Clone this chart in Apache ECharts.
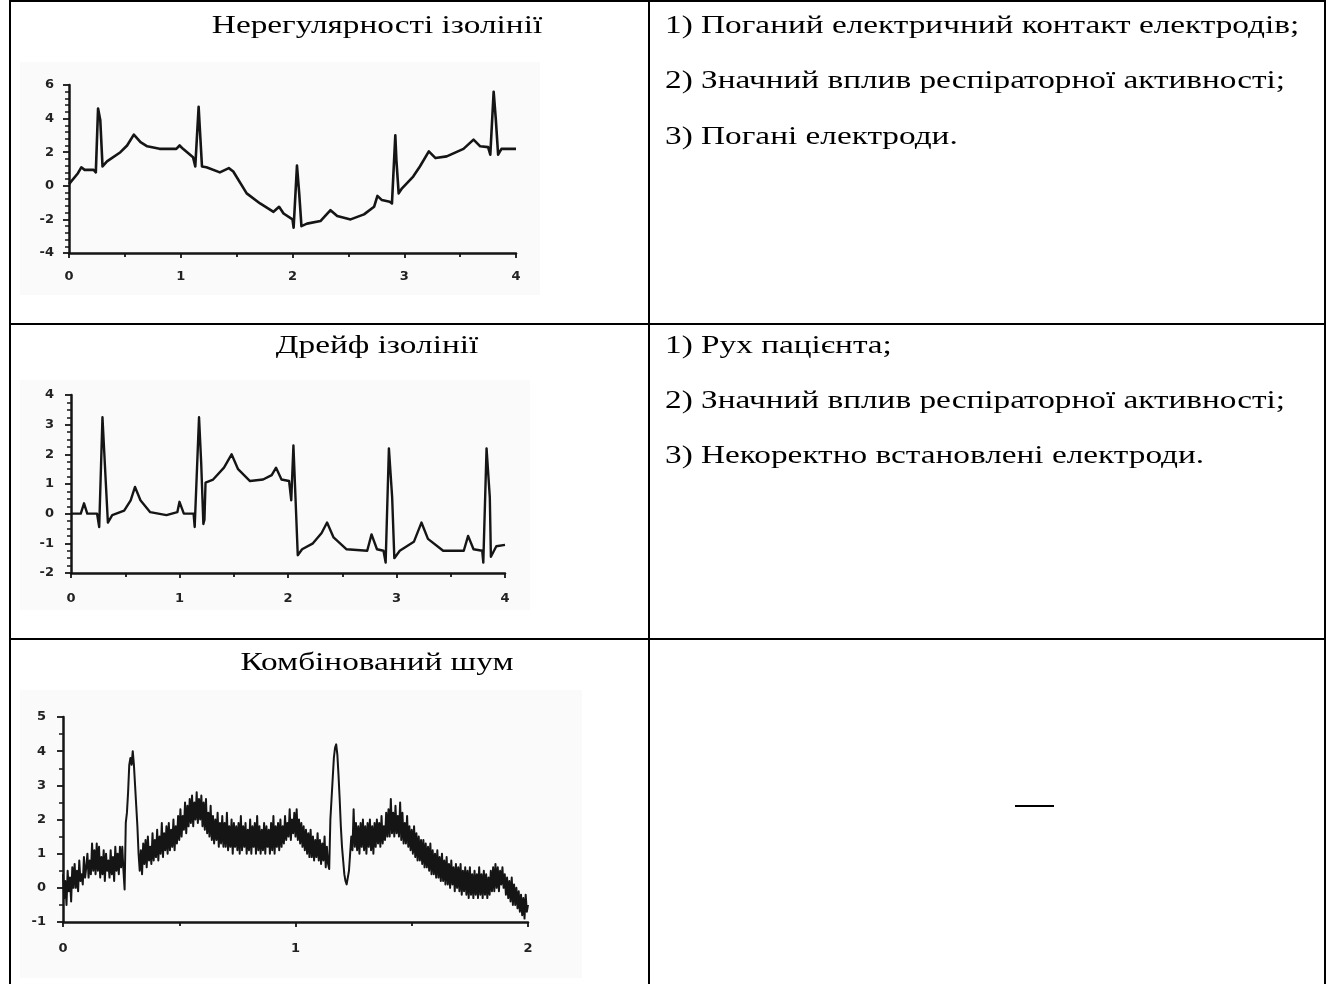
<!DOCTYPE html>
<html>
<head>
<meta charset="utf-8">
<script src="https://cdn.jsdelivr.net/npm/echarts@6/dist/echarts.min.js"></script>
<style>
html,body{margin:0;padding:0;background:#fff;}
#c{width:1329px;height:984px;}
</style>
</head>
<body>
<div id="c"></div>
<script>
// ---------- texts ----------
const rowTitles = ['Нерегулярності ізолінії', 'Дрейф ізолінії', 'Комбінований шум'];
const row1Causes = ['1) Поганий електричний контакт електродів;', '2) Значний вплив респіраторної активності;', '3) Погані електроди.'];
const row2Causes = ['1) Рух пацієнта;', '2) Значний вплив респіраторної активності;', '3) Некоректно встановлені електроди.'];

// ---------- chart 1: baseline irregularities ----------
const c1X = [0,0.08,0.11,0.14,0.22,0.24,0.26,0.28,0.30,0.34,0.46,0.52,0.58,0.64,0.70,0.81,0.96,0.99,1.02,1.11,1.13,1.16,1.17,1.19,1.23,1.35,1.43,1.47,1.59,1.71,1.83,1.88,1.92,2.00,2.01,2.04,2.06,2.08,2.13,2.25,2.34,2.40,2.52,2.64,2.73,2.76,2.80,2.87,2.89,2.92,2.93,2.95,2.98,3.08,3.14,3.22,3.28,3.38,3.53,3.62,3.68,3.75,3.77,3.80,3.82,3.84,3.87,4.00];
const c1Y = [0.1,0.75,1.1,0.95,0.95,0.8,4.6,3.9,1.15,1.45,2.0,2.4,3.05,2.6,2.35,2.2,2.2,2.4,2.2,1.7,1.15,4.7,3.5,1.15,1.1,0.8,1.05,0.85,-0.45,-1.05,-1.55,-1.25,-1.65,-2.0,-2.5,1.2,-0.45,-2.4,-2.25,-2.1,-1.45,-1.8,-2.0,-1.7,-1.25,-0.6,-0.85,-0.95,-1.05,3.0,1.5,-0.45,-0.15,0.55,1.15,2.05,1.65,1.75,2.2,2.75,2.35,2.3,1.85,5.6,3.9,1.85,2.2,2.2];

// ---------- chart 2: baseline drift ----------
const c2X = [0,0.09,0.12,0.15,0.24,0.26,0.29,0.32,0.34,0.38,0.49,0.55,0.59,0.64,0.73,0.88,0.98,1.00,1.04,1.13,1.14,1.18,1.20,1.22,1.23,1.24,1.31,1.41,1.48,1.54,1.65,1.77,1.85,1.89,1.94,2.01,2.03,2.05,2.07,2.09,2.13,2.23,2.31,2.36,2.42,2.54,2.73,2.77,2.82,2.88,2.90,2.93,2.96,2.98,3.03,3.16,3.23,3.29,3.43,3.62,3.66,3.71,3.79,3.80,3.83,3.86,3.87,3.92,4.00];
const c2Y = [0,0,0.35,0,0,-0.45,3.25,1.1,-0.3,-0.05,0.1,0.45,0.9,0.45,0.05,-0.05,0.05,0.4,0,0,-0.45,3.25,1.7,-0.35,-0.2,1.05,1.15,1.55,2.0,1.5,1.1,1.15,1.3,1.55,1.15,1.1,0.45,2.3,0.45,-1.4,-1.2,-1.0,-0.65,-0.3,-0.8,-1.2,-1.25,-0.7,-1.2,-1.25,-1.65,2.2,0.55,-1.5,-1.25,-0.95,-0.3,-0.85,-1.25,-1.25,-0.75,-1.2,-1.25,-1.65,2.2,0.55,-1.45,-1.1,-1.05];

// ---------- chart 3: combined noise (sampled every 0.005) ----------
const c3Step = 0.005;
const c3Y = [
 0.4,-0.3,0.2,-0.5,0.5,-0.1,0.3,-0.4,0.6,0.0,
 0.7,0.0,0.5,-0.1,0.8,0.2,0.4,0.1,0.9,0.3,
 0.6,1.0,0.3,0.8,0.4,1.3,0.5,1.1,0.4,1.3,
 0.5,1.2,0.3,0.9,0.4,1.1,0.2,1.0,0.5,0.8,
 0.3,1.1,0.4,0.9,0.2,1.2,0.5,1.0,0.4,1.2,
 0.6,1.2,0.5,-0.05,1.9,2.2,2.8,3.6,3.8,3.6,
 4.0,3.6,3.0,2.4,1.8,1.0,0.5,1.1,0.4,1.3,
 0.7,1.4,0.6,1.5,0.8,1.2,0.7,1.6,0.8,1.4,
 0.9,1.7,0.8,1.5,1.0,1.9,0.9,1.6,1.1,1.8,
 1.0,1.9,1.1,1.7,1.2,2.0,1.1,1.8,1.3,2.1,
 1.4,2.3,1.5,2.1,1.7,2.5,1.6,2.4,1.8,2.6,
 1.9,2.7,1.8,2.5,2.0,2.8,1.9,2.6,2.0,2.7,
 1.8,2.5,1.7,2.6,1.6,2.2,1.5,2.4,1.4,2.1,
 1.3,2.0,1.4,2.2,1.2,1.9,1.3,2.1,1.2,1.9,
 1.2,2.2,1.1,1.8,1.2,2.0,1.0,1.9,1.2,1.8,
 1.1,1.9,1.0,2.1,1.1,1.8,1.2,1.9,1.0,1.7,
 1.1,2.0,1.0,1.8,1.2,1.9,1.0,2.1,1.1,1.8,
 1.0,1.7,1.1,1.9,1.0,1.8,1.2,1.7,1.0,1.9,
 1.1,2.1,1.0,1.8,1.2,1.9,1.1,2.0,1.2,1.8,
 1.3,2.1,1.4,1.9,1.5,2.3,1.4,2.0,1.6,2.2,
 1.5,2.3,1.4,2.0,1.3,1.9,1.2,1.8,1.1,1.7,
 1.0,1.6,0.9,1.7,0.9,1.5,0.8,1.4,0.9,1.6,
 0.8,1.4,0.7,1.3,0.8,1.5,0.6,1.2,0.7,0.55,
 2.0,2.6,3.2,3.8,4.1,4.2,3.9,3.3,2.6,1.8,
 1.2,0.8,0.4,0.2,0.1,0.15,0.5,1.0,1.5,1.1,
 2.3,1.2,1.9,1.1,1.8,1.0,1.9,1.2,2.0,1.1,
 1.8,1.0,1.9,1.2,2.0,1.1,1.8,1.0,1.9,1.2,
 2.0,1.3,1.9,1.2,2.1,1.3,1.8,1.4,2.2,1.5,
 2.3,1.5,2.6,1.6,2.2,1.5,2.4,1.6,2.1,1.5,
 2.5,1.4,2.2,1.3,1.9,1.3,2.1,1.2,1.8,1.1,
 1.7,1.0,1.8,0.9,1.6,0.8,1.5,0.8,1.4,0.7,
 1.4,0.6,1.3,0.6,1.2,0.5,1.3,0.4,1.1,0.4,
 1.0,0.3,1.1,0.3,0.9,0.2,1.0,0.2,0.8,0.1,
 0.9,0.1,0.7,0.0,0.8,0.1,0.6,-0.1,0.7,0.0,
 0.6,-0.1,0.7,-0.2,0.5,-0.1,0.6,-0.2,0.5,-0.3,
 0.6,-0.2,0.4,-0.3,0.5,-0.2,0.4,-0.3,0.6,-0.2,
 0.4,-0.3,0.5,-0.2,0.4,-0.3,0.3,-0.2,0.5,-0.1,
 0.6,-0.1,0.7,0.0,0.6,-0.1,0.5,0.1,0.6,0.0,
 0.4,-0.2,0.3,-0.3,0.2,-0.4,0.3,-0.5,0.1,-0.5,
 0.0,-0.6,-0.1,-0.7,-0.2,-0.8,-0.3,-0.9,-0.2,-0.7,
 -0.5
];

// ---------- axis tick settings ----------
const c1XTicks = {min:0, max:4, interval:1};
const c1YTicks = {min:-4, max:6, interval:2};
const c2XTicks = {min:0, max:4, interval:1};
const c2YTicks = {min:-2, max:4, interval:1};
const c3XTicks = {min:0, max:2, interval:1};
const c3YTicks = {min:-1, max:5, interval:1};

function zip(xs, ys){ return xs.map((x,i)=>[x, ys[i]]); }
const c3Data = c3Y.map((v,i)=>[+(i*c3Step).toFixed(3), v]);

const ink = '#151515';
const labelFont = {color:'#222', fontFamily:'DejaVu Sans', fontWeight:'bold', fontSize:13};

function xAxis(idx, t, margin){
  return Object.assign({
    type:'value', gridIndex:idx,
    axisLine:{show:true, onZero:false, lineStyle:{color:ink, width:2.5}},
    axisTick:{show:true, length:5, lineStyle:{color:ink, width:1.8}},
    minorTick:{show:true, splitNumber:2, length:4, lineStyle:{color:ink, width:1.8}},
    splitLine:{show:false},
    axisLabel:Object.assign({margin:margin}, labelFont)
  }, t);
}
function yAxis(idx, t, split, margin){
  return Object.assign({
    type:'value', gridIndex:idx,
    axisLine:{show:true, onZero:false, lineStyle:{color:ink, width:2.5}},
    axisTick:{show:true, length:6, lineStyle:{color:ink, width:1.8}},
    minorTick:{show:true, splitNumber:split, length:4, lineStyle:{color:ink, width:1.5}},
    splitLine:{show:false},
    axisLabel:Object.assign({margin:margin}, labelFont)
  }, t);
}
function line(idx, data, w){
  return {type:'line', xAxisIndex:idx, yAxisIndex:idx, data:data, showSymbol:false, symbol:'none',
    animation:false, lineStyle:{color:ink, width:w, join:'round'}};
}

const fs = 26;
const sx = 1.28;
function txt(s, x, y, align){
  return {type:'text', x:x, y:y, scaleX:sx, style:{text:s, fontFamily:'Liberation Serif', fontSize:fs, fill:'#000',
    textAlign:align, textVerticalAlign:'middle'}};
}
function hline(x1,x2,y,w){ return {type:'line', shape:{x1:x1,y1:y,x2:x2,y2:y}, style:{stroke:'#000', lineWidth:w}}; }
function vline(x,y1,y2,w){ return {type:'line', shape:{x1:x,y1:y1,x2:x,y2:y2}, style:{stroke:'#000', lineWidth:w}}; }

const graphics = [
  {type:'rect', shape:{x:20,y:62,width:520,height:233}, style:{fill:'#fafafa'}, z:-10},
  {type:'rect', shape:{x:20,y:380,width:510,height:230}, style:{fill:'#fafafa'}, z:-10},
  {type:'rect', shape:{x:20,y:690,width:562,height:288}, style:{fill:'#fafafa'}, z:-10},
  hline(9,1326,1,2), hline(9,1326,324,2), hline(9,1326,639,2),
  vline(10,0,984,2), vline(649,0,984,2), vline(1325,0,984,2),
  hline(1015,1054,806,2),
  txt(rowTitles[0], 377, 26, 'center'),
  txt(rowTitles[1], 377, 346, 'center'),
  txt(rowTitles[2], 377, 663, 'center')
];
row1Causes.forEach((s,i)=>graphics.push(txt(s, 665, 26+i*55.5, 'left')));
row2Causes.forEach((s,i)=>graphics.push(txt(s, 665, 346+i*55, 'left')));

const chart = echarts.init(document.getElementById('c'), null, {renderer:'canvas'});
chart.setOption({
  animation:false,
  backgroundColor:'#fff',
  grid:[
    {left:69, top:85, width:447, height:168},
    {left:71, top:395, width:434, height:178},
    {left:63, top:717, width:465, height:205}
  ],
  xAxis:[xAxis(0,c1XTicks,17), xAxis(1,c2XTicks,19), xAxis(2,c3XTicks,20)],
  yAxis:[yAxis(0,c1YTicks,5,15), yAxis(1,c2YTicks,4,17), yAxis(2,c3YTicks,2,17)],
  series:[
    line(0, zip(c1X,c1Y), 2.6),
    line(1, zip(c2X,c2Y), 2.4),
    line(2, c3Data, 2.0)
  ],
  graphic:graphics
});
</script>
</body>
</html>
